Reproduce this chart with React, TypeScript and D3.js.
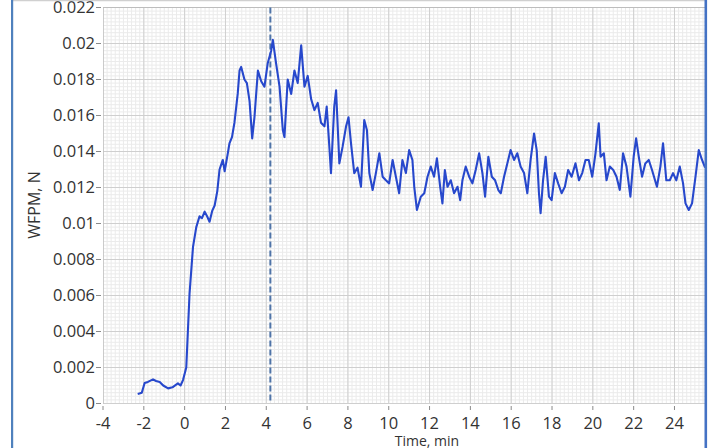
import React from "react";
import * as d3 from "d3";

const W = 710;
const H = 448;

// Time (min) ticks and force (N) ticks
const xTicks = [-4, -2, 0, 2, 4, 6, 8, 10, 12, 14, 16, 18, 20, 22, 24];
const yTicks = [0, 0.002, 0.004, 0.006, 0.008, 0.01, 0.012, 0.014, 0.016, 0.018, 0.02, 0.022];
const yTickLabels = ["0", "0.002", "0.004", "0.006", "0.008", "0.01", "0.012", "0.014", "0.016", "0.018", "0.02", "0.022"];
const markerTime = 4.2;

// WFPM trace: [time min, force N]
const wfpm: [number, number][] = [
  [-2.3, 0.00053], [-2.1, 0.0006], [-1.96, 0.00114], [-1.8, 0.0012], [-1.55, 0.00134], [-1.4, 0.00125],
  [-1.22, 0.0012], [-1.05, 0.001], [-0.81, 0.00084], [-0.6, 0.0009], [-0.33, 0.00112], [-0.2, 0.001],
  [-0.08, 0.0013], [0.08, 0.002], [0.24, 0.0061], [0.41, 0.0087], [0.57, 0.0098], [0.73, 0.0104],
  [0.85, 0.0103], [0.98, 0.01066], [1.1, 0.0104], [1.22, 0.0101], [1.35, 0.0107], [1.47, 0.011],
  [1.6, 0.0118], [1.71, 0.013], [1.87, 0.01353], [1.96, 0.0129], [2.1, 0.0138], [2.2, 0.01447],
  [2.32, 0.0148], [2.44, 0.0156], [2.6, 0.0172], [2.69, 0.0185], [2.77, 0.0187], [2.93, 0.018],
  [3.05, 0.0178], [3.18, 0.0168], [3.31, 0.01473], [3.42, 0.0159], [3.59, 0.0185], [3.75, 0.0179],
  [3.91, 0.0176], [4.07, 0.0189], [4.24, 0.0196], [4.32, 0.0202], [4.48, 0.0189], [4.65, 0.0176],
  [4.81, 0.0152], [4.89, 0.0148], [5.05, 0.018], [5.22, 0.0172], [5.38, 0.0185], [5.54, 0.0178],
  [5.71, 0.0199], [5.87, 0.0176], [6.03, 0.0182], [6.2, 0.0169], [6.36, 0.0163], [6.52, 0.0167],
  [6.68, 0.0156], [6.85, 0.0154], [6.96, 0.0165], [7.09, 0.01427], [7.17, 0.0128], [7.33, 0.0165],
  [7.42, 0.0174], [7.58, 0.01334], [7.74, 0.01427], [7.91, 0.0154], [8.03, 0.0159], [8.15, 0.01446],
  [8.31, 0.0128], [8.47, 0.0131], [8.64, 0.01204], [8.8, 0.01575], [8.93, 0.0152], [9.05, 0.0128],
  [9.21, 0.01186], [9.37, 0.0128], [9.54, 0.0139], [9.7, 0.0126], [9.86, 0.0124], [10.02, 0.01223],
  [10.19, 0.01353], [10.35, 0.0126], [10.51, 0.01168], [10.67, 0.01353], [10.84, 0.0128], [11.0, 0.01408],
  [11.16, 0.01353], [11.25, 0.01204], [11.38, 0.01075], [11.57, 0.01149], [11.74, 0.01168], [11.9, 0.0126],
  [12.06, 0.01316], [12.22, 0.0126], [12.36, 0.01362], [12.52, 0.01204], [12.63, 0.01112], [12.75, 0.01297],
  [12.88, 0.01204], [13.04, 0.0124], [13.2, 0.01168], [13.37, 0.01204], [13.5, 0.0113], [13.61, 0.0124],
  [13.77, 0.01316], [13.94, 0.0126], [14.1, 0.01223], [14.26, 0.01297], [14.43, 0.0139], [14.59, 0.0128],
  [14.72, 0.01149], [14.88, 0.01371], [15.05, 0.0126], [15.21, 0.0124], [15.37, 0.01186], [15.49, 0.01168],
  [15.65, 0.0126], [15.81, 0.01334], [15.97, 0.01408], [16.14, 0.01353], [16.3, 0.0139], [16.46, 0.01316],
  [16.63, 0.0128], [16.79, 0.01168], [16.95, 0.01353], [17.12, 0.015], [17.25, 0.01408], [17.36, 0.01168],
  [17.44, 0.01057], [17.56, 0.0124], [17.69, 0.01371], [17.85, 0.01149], [17.98, 0.0113], [18.14, 0.0128],
  [18.3, 0.01223], [18.47, 0.01168], [18.63, 0.01204], [18.79, 0.01297], [18.96, 0.0126], [19.15, 0.01334],
  [19.32, 0.0124], [19.48, 0.0128], [19.64, 0.01353], [19.8, 0.01353], [19.97, 0.0126], [20.13, 0.0139],
  [20.29, 0.01557], [20.38, 0.01371], [20.54, 0.0139], [20.67, 0.0124], [20.83, 0.01316], [21.0, 0.01297],
  [21.16, 0.0126], [21.32, 0.01186], [21.48, 0.0139], [21.65, 0.01316], [21.84, 0.01149], [22.0, 0.01371],
  [22.12, 0.01473], [22.25, 0.01371], [22.41, 0.0126], [22.57, 0.01334], [22.74, 0.01353], [22.9, 0.01297],
  [23.14, 0.01204], [23.31, 0.01316], [23.44, 0.01446], [23.6, 0.0124], [23.77, 0.0124], [23.93, 0.0128],
  [24.09, 0.0124], [24.26, 0.01316], [24.42, 0.01223], [24.54, 0.01112], [24.7, 0.01075], [24.86, 0.01112],
  [25.03, 0.0126], [25.19, 0.01408], [25.35, 0.01353], [25.5, 0.0131],
];

export default function App() {
  const left = 103;
  const right = 705;
  const top = 7.5;
  const bottom = 403.5;
  const x = d3.scaleLinear().domain([-4, 26]).range([left, left + 30 * 20.41]);
  const y = d3.scaleLinear().domain([0, 0.022]).range([bottom, top]);

  const minorX = d3.range(-4, 26.01, 0.2);
  const minorY = d3.range(0, 0.02201, 0.0002);

  const line = d3
    .line<[number, number]>()
    .x((d) => x(d[0]))
    .y((d) => y(d[1]))
    .curve(d3.curveLinear);

  const font = "'Open Sans', 'Segoe UI', sans-serif";

  return (
    <svg
      width={W}
      height={H}
      style={{ position: "absolute", left: 0, top: 0, background: "#fff" }}
    >
      <defs>
        <clipPath id="plotClip">
          <rect x={left} y={top - 1} width={right - left} height={bottom - top + 2} />
        </clipPath>
      </defs>
      <rect x={0} y={0} width={W} height={H} fill="#fff" />
      <g clipPath="url(#plotClip)">
        {minorX.map((t, i) => (
          <line key={"mx" + i} x1={x(t)} x2={x(t)} y1={top} y2={bottom} stroke="#ebebeb" strokeWidth={1} />
        ))}
        {minorY.map((v, i) => (
          <line key={"my" + i} x1={left} x2={right} y1={y(v)} y2={y(v)} stroke="#ebebeb" strokeWidth={1} />
        ))}
        {xTicks.map((t) => (
          <line key={"gx" + t} x1={x(t)} x2={x(t)} y1={top} y2={bottom} stroke="#cfcfcf" strokeWidth={1} />
        ))}
        {yTicks.map((v) => (
          <line key={"gy" + v} x1={left} x2={right} y1={y(v)} y2={y(v)} stroke="#cfcfcf" strokeWidth={1} />
        ))}
        <line x1={left} x2={right} y1={top} y2={top} stroke="#bdbdbd" strokeWidth={1.2} />
        <line x1={left} x2={left} y1={top} y2={bottom} stroke="#bdbdbd" strokeWidth={1.2} />
        <line
          x1={x(markerTime)}
          x2={x(markerTime)}
          y1={top}
          y2={bottom}
          stroke="#4f74a8"
          strokeWidth={2}
          strokeDasharray="6,3"
        />
        <path d={line(wfpm) || ""} fill="none" stroke="#2748cc" strokeWidth={2.1} strokeLinejoin="round" />
      </g>
      {/* y axis ticks and labels */}
      {yTicks.map((v, i) => (
        <g key={"yt" + v}>
          <line x1={96} x2={101} y1={y(v)} y2={y(v)} stroke="#8a8a8a" strokeWidth={1} />
          <text
            x={95}
            y={y(v)}
            dy="0.35em"
            textAnchor="end"
            fontFamily={font}
            fontSize={16.5}
            fill="#333"
          >
            {yTickLabels[i]}
          </text>
        </g>
      ))}
      {/* x axis ticks and labels */}
      {xTicks.map((t) => (
        <g key={"xt" + t}>
          <line x1={x(t)} x2={x(t)} y1={406} y2={410} stroke="#8a8a8a" strokeWidth={1} />
          <text x={x(t)} y={428.5} textAnchor="middle" fontFamily={font} fontSize={16.5} fill="#333">
            {t}
          </text>
        </g>
      ))}
      <text
        transform="translate(34,205) rotate(-90)"
        textAnchor="middle"
        dominantBaseline="central"
        fontFamily={font}
        fontSize={16}
        fill="#333"
      >
        WFPM, N
      </text>
      <text x={427} y={446} textAnchor="middle" fontFamily={font} fontSize={14} fill="#333">
        Time, min
      </text>
      {/* outer frame from the cropped screenshot */}
      <line x1={12} x2={707} y1={0.5} y2={0.5} stroke="#d0d0d0" strokeWidth={1.5} />
      <rect x={11} y={0} width={2.2} height={H} fill="#4f81bd" />
      <rect x={704.5} y={0} width={2.8} height={H} fill="#4472c4" />
      <rect x={707.3} y={0} width={W - 707.3} height={H} fill="#fff" />
    </svg>
  );
}
